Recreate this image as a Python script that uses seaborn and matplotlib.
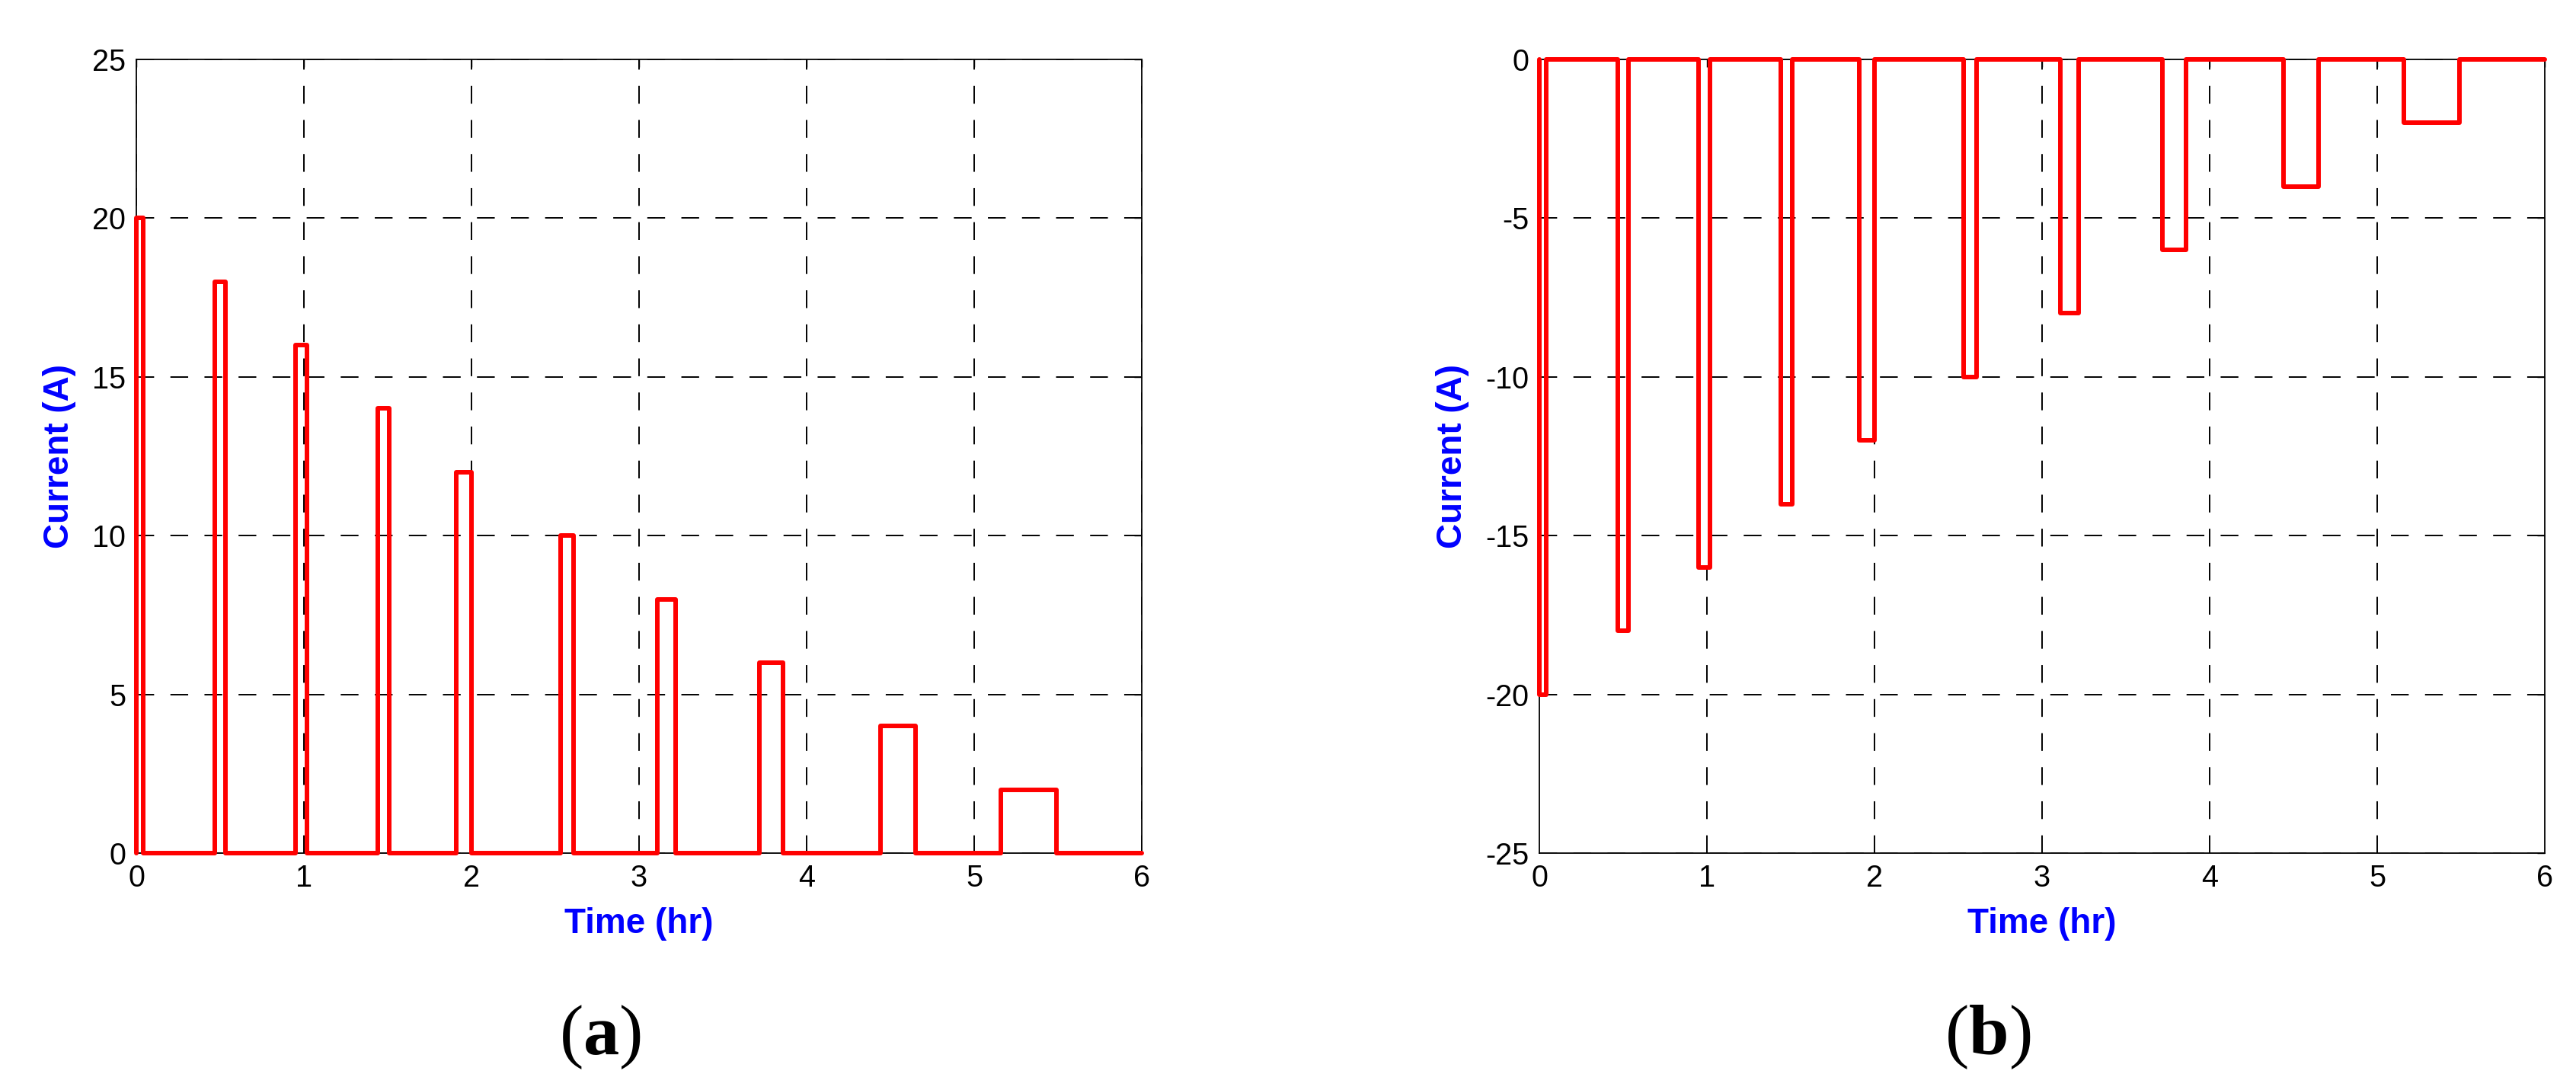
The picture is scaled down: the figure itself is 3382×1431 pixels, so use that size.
import pandas as pd
import matplotlib.pyplot as plt
import seaborn as sns

# pulse timing (hours) and pulse heights (A)
pulse_start = [0.00, 0.47, 0.95, 1.44, 1.91, 2.53, 3.11, 3.72, 4.44, 5.16]
pulse_end = [0.04, 0.53, 1.02, 1.51, 2.00, 2.61, 3.22, 3.86, 4.65, 5.49]
charge_amp = [20, 18, 16, 14, 12, 10, 8, 6, 4, 2]
discharge_amp = [-20, -18, -16, -14, -12, -10, -8, -6, -4, -2]
t_final = 6

x_ticks = [0, 1, 2, 3, 4, 5, 6]
y_ticks_a = [0, 5, 10, 15, 20, 25]
y_ticks_b = [-25, -20, -15, -10, -5, 0]


def pulse_frame(amps):
    # corner points of the pulse train, drawn later as a post step line
    t, i = [0.0], [0.0]
    for s, e, a in zip(pulse_start, pulse_end, amps):
        t += [s, e]
        i += [a, 0.0]
    t.append(t_final)
    i.append(0.0)
    return pd.DataFrame({'time': t, 'current': i})


sns.set_theme(style='white')
plt.rcParams['font.family'] = ['Liberation Sans', 'DejaVu Sans']
plt.rcParams['axes.unicode_minus'] = False
plt.rcParams['mathtext.fontset'] = 'custom'
plt.rcParams['mathtext.rm'] = 'Liberation Serif'
plt.rcParams['mathtext.bf'] = 'Liberation Serif:bold'

W, H = 3382, 1431
fig = plt.figure(figsize=(W / 100, H / 100), dpi=100)
ax_a = fig.add_axes([179 / W, 1 - 1120 / H, 1320 / W, 1042 / H])
ax_b = fig.add_axes([2021 / W, 1 - 1120 / H, 1320 / W, 1042 / H])

panels = [(ax_a, charge_amp, y_ticks_a, 'a', 788, False),
          (ax_b, discharge_amp, y_ticks_b, 'b', 2610, True)]

grid_kw = dict(color='black', linestyle=(0, (12, 11)), linewidth=1.4)

for ax, amps, yt, tag, tag_x, cut_grid in panels:
    df = pulse_frame(amps)
    sns.lineplot(data=df, x='time', y='current', ax=ax, sort=False,
                 estimator=None, drawstyle='steps-post', color='#ff0000',
                 linewidth=4.3, clip_on=False, zorder=5)
    ax.set_xlim(x_ticks[0], x_ticks[-1])
    ax.set_ylim(yt[0], yt[-1])
    ax.set_xticks(x_ticks)
    ax.set_yticks(yt)
    ax.grid(True, axis='y', **grid_kw)
    if not cut_grid:
        ax.grid(True, axis='x', **grid_kw)
    else:
        # in panel (b) the vertical grid lines are hidden inside a pulse
        for x in x_ticks[1:-1]:
            top = yt[-1]
            for s, e, a in zip(pulse_start, pulse_end, amps):
                if s - 0.01 <= x <= e + 0.01:
                    top = a
            ax.plot([x, x], [yt[0], top], zorder=1, **grid_kw)
    ax.tick_params(direction='in', length=7, width=1, top=True, right=True,
                   labelsize=28.5, colors='black', pad=10)
    for sp in ax.spines.values():
        sp.set_visible(True)
        sp.set_color('black')
        sp.set_linewidth(1.3)
    ax.set_xlabel('Time (hr)', color='#0000ff', fontsize=33,
                  fontweight='bold', labelpad=14)
    ax.set_ylabel('Current (A)', color='#0000ff', fontsize=33,
                  fontweight='bold', labelpad=15)
    fig.text(tag_x / W, 1 - 1361 / H, r'$(\mathbf{' + tag + '})$',
             ha='center', va='center', fontsize=68, color='black')

fig.savefig('out.png', dpi=100, facecolor='white')
